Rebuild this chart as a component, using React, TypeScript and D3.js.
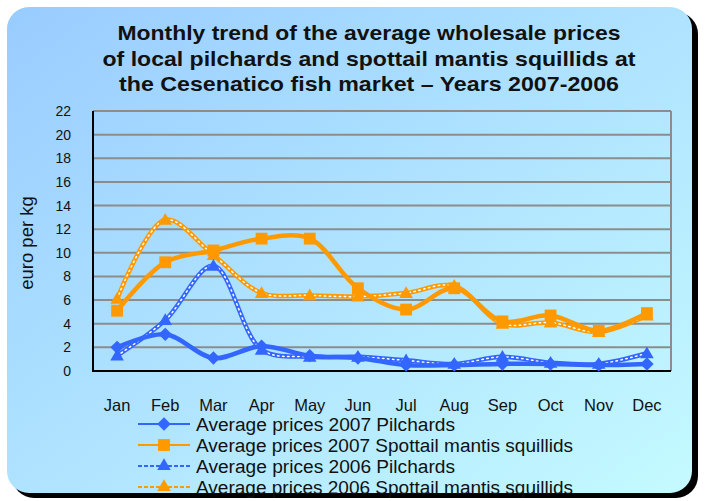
import { useEffect, useRef } from "react";
import * as d3 from "d3";

const months = ["Jan", "Feb", "Mar", "Apr", "May", "Jun", "Jul", "Aug", "Sep", "Oct", "Nov", "Dec"];
const yTicks = [0, 2, 4, 6, 8, 10, 12, 14, 16, 18, 20, 22];

const pilchards2007 = [2.0, 3.1, 1.1, 2.1, 1.3, 1.1, 0.5, 0.5, 0.6, 0.6, 0.5, 0.6];
const squillids2007 = [5.1, 9.2, 10.2, 11.2, 11.2, 7.0, 5.2, 7.0, 4.2, 4.7, 3.4, 4.9];
const pilchards2006 = [1.3, 4.3, 8.9, 1.8, 1.2, 1.2, 0.9, 0.6, 1.2, 0.7, 0.6, 1.5];
const squillids2006 = [6.1, 12.8, 9.8, 6.6, 6.4, 6.3, 6.6, 7.2, 4.0, 4.1, 3.3, 4.7];

const titleLines = [
  "Monthly trend of the average wholesale prices",
  "of local pilchards and spottail mantis squillids  at",
  "the Cesenatico fish market \u2013 Years 2007-2006",
];

const BLUE = "#3366FF";
const ORANGE = "#FF9900";

interface Series {
  name: string;
  values: number[];
  color: string;
  marker: "diamond" | "square" | "triangle";
  dotted: boolean;
}

const series: Series[] = [
  { name: "Average prices 2007 Pilchards", values: pilchards2007, color: BLUE, marker: "diamond", dotted: false },
  { name: "Average prices 2007 Spottail mantis squillids", values: squillids2007, color: ORANGE, marker: "square", dotted: false },
  { name: "Average prices 2006 Pilchards", values: pilchards2006, color: BLUE, marker: "triangle", dotted: true },
  { name: "Average prices 2006 Spottail mantis squillids", values: squillids2006, color: ORANGE, marker: "triangle", dotted: true },
];

const App = () => {
  const svgRef = useRef<SVGSVGElement>(null);

  useEffect(() => {
    if (!svgRef.current) return;
    const width = 707;
    const height = 501;
    const svg = d3.select(svgRef.current);
    svg.selectAll("*").remove();
    svg.attr("width", width).attr("height", height).style("font-family", "Liberation Sans, Arial, sans-serif");

    // background gradient
    const defs = svg.append("defs");
    const grad = defs
      .append("linearGradient")
      .attr("id", "bg")
      .attr("x1", "0%")
      .attr("y1", "0%")
      .attr("x2", "100%")
      .attr("y2", "100%");
    grad.append("stop").attr("offset", "0%").attr("stop-color", "#99CCFF");
    grad.append("stop").attr("offset", "100%").attr("stop-color", "#C4FAFF");

    // panel shadow + panel
    svg.append("rect").attr("x", 12).attr("y", 12).attr("width", 686).attr("height", 486).attr("rx", 22).attr("fill", "#000");
    svg.append("rect").attr("x", 7).attr("y", 7).attr("width", 685).attr("height", 486).attr("rx", 22).attr("fill", "url(#bg)");

    // title (condensed bold, fit to the widths seen in the original)
    const titleWidths = [503, 533, 500];
    svg
      .append("g")
      .selectAll("text")
      .data(titleLines)
      .join("text")
      .attr("x", 369)
      .attr("y", (d, i) => 40 + i * 25.5)
      .attr("text-anchor", "middle")
      .attr("textLength", (d, i) => titleWidths[i])
      .attr("lengthAdjust", "spacingAndGlyphs")
      .style("font-size", "21px")
      .style("font-weight", "bold")
      .attr("fill", "#111")
      .text((d) => d);

    const margin = { left: 93, right: 671, top: 111, bottom: 371 };
    const x = d3.scaleBand<string>().domain(months).range([margin.left, margin.right]);
    const y = d3.scaleLinear().domain([0, 22]).range([margin.bottom, margin.top]);
    const cx = (i: number) => (x(months[i]) ?? 0) + x.bandwidth() / 2;

    // gridlines
    svg
      .append("g")
      .selectAll("line")
      .data(yTicks.filter((t) => t > 0))
      .join("line")
      .attr("x1", margin.left)
      .attr("x2", margin.right)
      .attr("y1", (d) => y(d))
      .attr("y2", (d) => y(d))
      .attr("stroke", "#8C8C8C")
      .attr("stroke-width", 2);
    svg
      .append("line")
      .attr("x1", margin.right)
      .attr("x2", margin.right)
      .attr("y1", margin.top)
      .attr("y2", margin.bottom)
      .attr("stroke", "#8C8C8C")
      .attr("stroke-width", 2);

    // axes lines
    svg
      .append("path")
      .attr("d", `M${margin.left},${margin.top}V${margin.bottom}H${margin.right}`)
      .attr("fill", "none")
      .attr("stroke", "#000")
      .attr("stroke-width", 2);

    // y tick labels
    svg
      .append("g")
      .selectAll("text")
      .data(yTicks)
      .join("text")
      .attr("x", 71)
      .attr("y", (d) => y(d) + 5)
      .attr("text-anchor", "end")
      .style("font-size", "14px")
      .attr("fill", "#111")
      .text((d) => d);

    // x labels
    svg
      .append("g")
      .selectAll("text")
      .data(months)
      .join("text")
      .attr("x", (d, i) => cx(i))
      .attr("y", 411)
      .attr("text-anchor", "middle")
      .style("font-size", "16.5px")
      .attr("fill", "#111")
      .text((d) => d);

    // y axis title
    svg
      .append("text")
      .attr("transform", "translate(33,243) rotate(-90)")
      .attr("text-anchor", "middle")
      .style("font-size", "18.5px")
      .attr("fill", "#111")
      .text("euro per kg");

    const line = d3
      .line<number>()
      .x((d, i) => cx(i))
      .y((d) => y(d))
      .curve(d3.curveCatmullRom.alpha(0.5));

    const markerPath = (m: Series["marker"]) => {
      if (m === "diamond") return d3.symbol(d3.symbolDiamond2, 115)();
      if (m === "square") return d3.symbol(d3.symbolSquare, 140)();
      return d3.symbol(d3.symbolTriangle, 80)();
    };

    const drawLine = (g: d3.Selection<SVGGElement, unknown, null, undefined>, s: Series, d: string) => {
      g.append("path").attr("d", d).attr("fill", "none").attr("stroke", s.color).attr("stroke-width", 4.5);
      if (s.dotted) {
        g.append("path")
          .attr("d", d)
          .attr("fill", "none")
          .attr("stroke", "#fff")
          .attr("stroke-width", 1.5)
          .attr("stroke-dasharray", "1.5 3.5")
          .attr("stroke-linecap", "round");
      }
    };

    // draw dotted (2006) first, then 2007 on top
    const order = [3, 2, 1, 0];
    order.forEach((k) => {
      const s = series[k];
      const g = svg.append("g");
      drawLine(g, s, line(s.values) ?? "");
      g.selectAll("path.m")
        .data(s.values)
        .join("path")
        .attr("class", "m")
        .attr("transform", (d, i) => `translate(${cx(i)},${y(d) + (s.marker === "triangle" ? 1 : 0)})`)
        .attr("d", markerPath(s.marker))
        .attr("fill", s.color);
    });

    // legend
    const legendWidths = [259, 377, 259, 377];
    const legend = svg.append("g");
    series.forEach((s, i) => {
      const ly = 424 + i * 21;
      const g = legend.append("g");
      g.append("path")
        .attr("d", `M138,${ly}H190`)
        .attr("fill", "none")
        .attr("stroke", s.color)
        .attr("stroke-width", 2)
        .attr("stroke-dasharray", s.dotted ? "4 2" : null);
      g.append("path")
        .attr("transform", `translate(164,${ly})`)
        .attr("d", markerPath(s.marker))
        .attr("fill", s.color);
      g.append("text")
        .attr("x", 196)
        .attr("y", ly + 6.5)
        .attr("textLength", legendWidths[i])
        .attr("lengthAdjust", "spacingAndGlyphs")
        .style("font-size", "18px")
        .attr("fill", "#111")
        .text(s.name);
    });
  }, []);

  return <svg ref={svgRef} style={{ display: "block", position: "absolute", left: 0, top: 0 }}></svg>;
};

export default App;
